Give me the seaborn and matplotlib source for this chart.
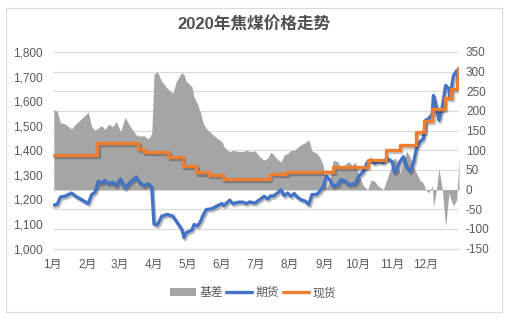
import matplotlib
matplotlib.use("Agg")
import matplotlib.pyplot as plt
import matplotlib.dates as mdates
import matplotlib.ticker as mticker
import matplotlib.patheffects as pe
from matplotlib.patches import Patch, Rectangle
from matplotlib.lines import Line2D
import seaborn as sns
import pandas as pd

# ---------------- data ----------------
fut_dates = ["01-02", "01-05", "01-08", "01-12", "01-18", "01-21", "01-27", "02-02", "02-05", "02-08",
             "02-11", "02-14", "02-17", "02-20", "02-24", "02-27", "03-02", "03-06", "03-10", "03-16",
             "03-19", "03-23", "03-27", "03-30", "04-01", "04-04", "04-08", "04-13", "04-18", "04-21",
             "04-26", "04-28", "04-30", "05-05", "05-07", "05-10", "05-13", "05-15", "05-18", "05-23",
             "05-27", "06-01", "06-03", "06-08", "06-11", "06-16", "06-20", "06-23", "06-26", "07-01",
             "07-03", "07-06", "07-09", "07-12", "07-15", "07-17", "07-21", "07-24", "07-27", "07-30",
             "08-02", "08-05", "08-07", "08-11", "08-15", "08-18", "08-21", "08-25", "08-28", "08-31",
             "09-03", "09-06", "09-09", "09-13", "09-16", "09-20", "09-23", "09-26", "09-29", "10-02",
             "10-06", "10-10", "10-13", "10-16", "10-19", "10-24", "10-27", "11-01", "11-03", "11-05",
             "11-08", "11-11", "11-14", "11-17", "11-20", "11-23", "11-26", "11-29", "12-01", "12-04",
             "12-07", "12-08", "12-10", "12-13", "12-16", "12-19", "12-22", "12-23", "12-26", "12-29",
             "12-31"]
futures = [1177, 1180, 1210, 1213, 1226, 1215, 1199, 1183, 1220, 1229,
           1273, 1267, 1277, 1264, 1270, 1256, 1283, 1246, 1267, 1291,
           1269, 1256, 1264, 1250, 1100, 1096, 1132, 1139, 1132, 1112,
           1078, 1045, 1065, 1075, 1098, 1092, 1112, 1135, 1159, 1162,
           1172, 1183, 1175, 1197, 1183, 1189, 1189, 1183, 1190, 1185,
           1193, 1202, 1213, 1202, 1215, 1213, 1226, 1240, 1215, 1226,
           1213, 1224, 1213, 1199, 1193, 1179, 1220, 1220, 1233, 1253,
           1294, 1280, 1253, 1260, 1280, 1274, 1260, 1262, 1265, 1294,
           1314, 1354, 1361, 1347, 1354, 1350, 1368, 1354, 1310, 1320,
           1354, 1374, 1331, 1314, 1347, 1412, 1435, 1448, 1522, 1529,
           1549, 1623, 1590, 1522, 1576, 1664, 1650, 1617, 1704, 1724,
           1657]
basis = [203, 200, 170, 167, 154, 165, 181, 197, 160, 151,
         157, 163, 153, 166, 160, 174, 147, 184, 163, 139,
         136, 137, 129, 143, 293, 300, 275, 257, 245, 275,
         298, 292, 275, 262, 235, 218, 194, 170, 155, 142,
         132, 122, 108, 96, 100, 97, 97, 100, 97, 98,
         90, 81, 75, 80, 95, 90, 77, 70, 88, 92,
         100, 100, 105, 114, 120, 127, 98, 93, 82, 62,
         5, 24, 75, 71, 55, 65, 71, 62, 70, 37,
         10, 0, 24, 22, 10, 0, 24, 65, 82, 75,
         41, 75, 97, 84, 58, 41, 24, 16, 0, -8,
         10, -43, -15, 54, 0, -94, -8, -20, -42, -25,
         80]
spot_dates = ["01-02", "02-10", "03-18", "03-23", "04-14", "04-27", "05-09", "05-20", "06-02", "07-14",
              "07-29", "09-09", "10-10", "10-26", "11-08", "11-22", "11-30", "12-07", "12-18", "12-24",
              "12-29", "12-30", "12-31"]
spot = [1380, 1430, 1405, 1393, 1372, 1337, 1310, 1300, 1283, 1303,
        1313, 1331, 1361, 1400, 1420, 1475, 1518, 1570, 1612, 1650,
        1690, 1733, 1733]

title = "2020年焦煤价格走势"
labels = ["基差", "期货", "现货"]
left_ticks = [1000, 1100, 1200, 1300, 1400, 1500, 1600, 1700, 1800]
right_ticks = [-150, -100, -50, 0, 50, 100, 150, 200, 250, 300, 350]

# ---------------- style ----------------
sns.set_style("white")
plt.rcParams["font.family"] = ["Liberation Sans", "Noto Sans CJK SC"]
plt.rcParams["axes.unicode_minus"] = False

TXT = "#595959"
GRID = "#D9D9D9"
BLUE = "#4472C4"
ORANGE = "#ED7D31"
GRAY = "#A5A5A5"
FS = 8.5

df_f = pd.DataFrame({"date": pd.to_datetime(["2020-" + d for d in fut_dates]),
                     "futures": futures, "basis": basis})
df_s = pd.DataFrame({"date": pd.to_datetime(["2020-" + d for d in spot_dates]), "spot": spot})

W, H = 511, 322
fig = plt.figure(figsize=(W / 100, H / 100), dpi=100)
x0, x1, ytop, ybot = 52.7, 459.0, 52.0, 248.6
ax = fig.add_axes([x0 / W, 1 - ybot / H, (x1 - x0) / W, (ybot - ytop) / H])
ax2 = ax.twinx()

# secondary axis: grid + basis area (behind)
ax2.set_ylim(-150, 350)
ax2.set_yticks(right_ticks)
ax2.yaxis.set_major_formatter(mticker.FuncFormatter(lambda v, p: f"{int(v)}"))
ax2.grid(True, axis="y", color=GRID, lw=0.8)
ax2.set_axisbelow(True)
ax2.fill_between(df_f["date"], df_f["basis"], 0, color=GRAY, lw=0, zorder=2)
ax2.tick_params(axis="y", length=0, pad=5, labelsize=FS, labelcolor=TXT)

# primary axis on top: lines
ax.set_zorder(ax2.get_zorder() + 1)
ax.patch.set_visible(False)
shadow = [pe.SimpleLineShadow(offset=(1, -1.5), alpha=0.25, shadow_color="k"), pe.Normal()]
sns.lineplot(data=df_f, x="date", y="futures", ax=ax, color=BLUE, lw=2.4,
             path_effects=shadow, legend=False)
sns.lineplot(data=df_s, x="date", y="spot", ax=ax, color=ORANGE, lw=2.4,
             drawstyle="steps-post", path_effects=shadow, legend=False)

ax.set_ylim(1000, 1800)
ax.set_yticks(left_ticks)
ax.yaxis.set_major_formatter(mticker.FuncFormatter(lambda v, p: f"{int(v):,}"))
ax.set_xlim(pd.Timestamp("2020-01-01"), pd.Timestamp("2020-12-31"))
ax.xaxis.set_major_locator(mdates.MonthLocator())
ax.xaxis.set_major_formatter(mticker.FuncFormatter(lambda v, p: f"{mdates.num2date(v).month}月"))
ax.set_xlabel("")
ax.set_ylabel("")
ax.tick_params(axis="y", length=0, pad=7, labelsize=FS, labelcolor=TXT)
ax.tick_params(axis="x", length=3.4, width=0.8, color=GRID, direction="out", pad=4,
               labelsize=FS, labelcolor=TXT)

for a in (ax, ax2):
    for s in ("top", "left", "right"):
        a.spines[s].set_visible(False)
ax2.spines["bottom"].set_visible(False)
ax.spines["bottom"].set_color(GRID)
ax.spines["bottom"].set_linewidth(0.8)

# title
fig.text(253.9 / W, 1 - 24.5 / H, title, ha="center", va="center", fontsize=12,
         fontweight="bold", color="#505050")

# legend
handles = [Patch(facecolor=GRAY, edgecolor="none"),
           Line2D([], [], color=BLUE, lw=2.4),
           Line2D([], [], color=ORANGE, lw=2.4)]
fig.legend(handles, labels, loc="center", bbox_to_anchor=(253 / W, 1 - 293.3 / H), ncol=3,
           frameon=False, fontsize=FS, labelcolor=TXT, handlelength=2.2, handletextpad=0.3,
           columnspacing=0.3, handleheight=0.6)

# chart border
fig.add_artist(Rectangle((5.7 / W, 1 - 312 / H), (502.3 - 5.7) / W, (312 - 7.7) / H,
                         transform=fig.transFigure, fill=False, edgecolor=GRID, lw=0.8))

fig.savefig("out.png", dpi=100)
